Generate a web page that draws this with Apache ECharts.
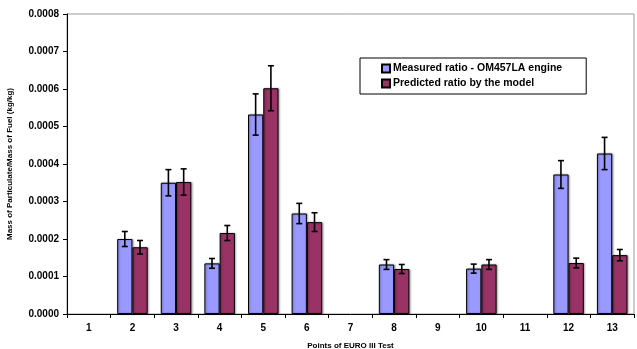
<!DOCTYPE html>
<html>
<head>
<meta charset="utf-8">
<script src="https://cdn.jsdelivr.net/npm/echarts@6/dist/echarts.min.js"></script>
<style>html,body{margin:0;padding:0;background:#fff}#c{width:637px;height:349px}</style>
</head>
<body>
<div id="c"></div>
<script>
var categories = ['1','2','3','4','5','6','7','8','9','10','11','12','13'];
var measured = [null, 0.000200, 0.000350, 0.000135, 0.000532, 0.000268, null, 0.000132, null, 0.000121, null, 0.000372, 0.000428];
var predicted = [null, 0.000178, 0.000352, 0.000216, 0.000602, 0.000245, null, 0.000120, null, 0.000132, null, 0.000136, 0.000157];
var measuredErr = [null, 0.000020, 0.000035, 0.000013, 0.000055, 0.000027, null, 0.000013, null, 0.000012, null, 0.000037, 0.000043];
var predictedErr = [null, 0.000018, 0.000035, 0.000020, 0.000060, 0.000025, null, 0.000012, null, 0.000013, null, 0.000013, 0.000015];
var yTicks = [0, 0.0001, 0.0002, 0.0003, 0.0004, 0.0005, 0.0006, 0.0007, 0.0008];

var BAR_W = 0.35;
function errData(vals, errs) {
  var out = [];
  for (var i = 0; i < vals.length; i++) {
    if (vals[i] != null) out.push([i, vals[i] - errs[i], vals[i] + errs[i]]);
  }
  return out;
}
function errRender(side) {
  return function (params, api) {
    var idx = api.value(0);
    var lo = api.coord([idx, api.value(1)]);
    var hi = api.coord([idx, api.value(2)]);
    var band = api.size([1, 0])[0];
    var x = lo[0] + side * band * BAR_W / 2;
    var cap = 3;
    var st = { stroke: '#000', lineWidth: 1.6 };
    return { type: 'group', children: [
      { type: 'line', shape: { x1: x, y1: lo[1], x2: x, y2: hi[1] }, style: st },
      { type: 'line', shape: { x1: x - cap, y1: lo[1], x2: x + cap, y2: lo[1] }, style: st },
      { type: 'line', shape: { x1: x - cap, y1: hi[1], x2: x + cap, y2: hi[1] }, style: st }
    ]};
  };
}
var font = 'Liberation Sans, Arial, sans-serif';
var chart = echarts.init(document.getElementById('c'), null, { renderer: 'canvas' });
chart.setOption({
  animation: false,
  backgroundColor: '#fff',
  grid: { left: 67, right: 3, top: 14, bottom: 35, show: true, borderColor: '#999', borderWidth: 1,
    outerBoundsMode: 'none', containLabel: false },
  legend: {
    left: 360, top: 58, orient: 'vertical', align: 'left',
    backgroundColor: '#fff', borderColor: '#000', borderWidth: 1,
    padding: [5, 24, 5, 21], itemGap: 4, itemWidth: 8, itemHeight: 8,
    textStyle: { fontFamily: font, fontSize: 10.5, fontWeight: 'bold', color: '#000', padding: [0, 0, 0, -2] },
    data: [
      { name: 'Measured ratio - OM457LA engine', icon: 'rect' },
      { name: 'Predicted ratio by the model', icon: 'rect' }
    ]
  },
  xAxis: {
    type: 'category', data: categories,
    name: 'Points of EURO III Test', nameLocation: 'middle', nameGap: 28,
    nameTextStyle: { fontFamily: font, fontSize: 8, fontWeight: 'bold', color: '#000' },
    axisLine: { lineStyle: { color: '#000', width: 1 } },
    axisTick: { show: true, length: 4, lineStyle: { color: '#000' } },
    axisLabel: { fontFamily: font, fontSize: 10, fontWeight: 'bold', color: '#000', margin: 9 },
    splitLine: { show: false }
  },
  yAxis: {
    type: 'value', min: 0, max: 0.0008, interval: 0.0001,
    name: 'Mass of Particulate/Mass of Fuel (kg/kg)', nameLocation: 'middle', nameGap: 53,
    nameTextStyle: { fontFamily: font, fontSize: 8, fontWeight: 'bold', color: '#000' },
    axisLine: { show: true, lineStyle: { color: '#000', width: 1 } },
    axisTick: { show: true, length: 4, lineStyle: { color: '#000' } },
    axisLabel: { fontFamily: font, fontSize: 10, fontWeight: 'bold', color: '#000', margin: 8,
      formatter: function (v) { return v.toFixed(4); } },
    splitLine: { show: false }
  },
  series: [
    { name: 'Measured ratio - OM457LA engine', type: 'bar', data: measured, barWidth: (BAR_W * 100) + '%', barGap: '0%',
      itemStyle: { color: '#9999FF', borderColor: '#000', borderWidth: 1, shadowColor: 'rgba(0,0,0,0.35)', shadowBlur: 2, shadowOffsetX: 1, shadowOffsetY: 0 } },
    { name: 'Predicted ratio by the model', type: 'bar', data: predicted, barWidth: (BAR_W * 100) + '%', barGap: '0%',
      itemStyle: { color: '#993366', borderColor: '#000', borderWidth: 1, shadowColor: 'rgba(0,0,0,0.35)', shadowBlur: 2, shadowOffsetX: 1, shadowOffsetY: 0 } },
    { type: 'custom', renderItem: errRender(-1), data: errData(measured, measuredErr), z: 5, silent: true, encode: { x: 0, y: [1, 2] } },
    { type: 'custom', renderItem: errRender(1), data: errData(predicted, predictedErr), z: 5, silent: true, encode: { x: 0, y: [1, 2] } }
  ]
});
</script>
</body>
</html>
